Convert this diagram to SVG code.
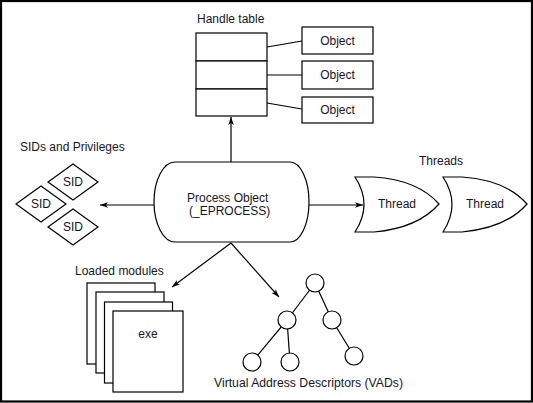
<svg xmlns="http://www.w3.org/2000/svg" width="533" height="403" viewBox="0 0 533 403">
<style>
.s{fill:#fff;stroke:#000;stroke-width:1.2}
.l{fill:none;stroke:#000;stroke-width:1.2}
.t{font-family:"Liberation Sans",Arial,sans-serif;font-size:12px;fill:#15152a}
.m{text-anchor:middle}
</style>
<defs>
<marker id="a" viewBox="0 0 10 10" refX="10" refY="5" markerWidth="8" markerHeight="8" markerUnits="userSpaceOnUse" orient="auto">
<path d="M0,1.5 L10,5 L0,8.5 L2.5,5 Z" fill="#000"/>
</marker>
</defs>
<rect x="1" y="1" width="531" height="400.5" fill="#fff" stroke="#000" stroke-width="2.2"/>

<g id="connectors">
<line class="l" x1="231" y1="162" x2="231" y2="117" marker-end="url(#a)"/>
<line class="l" x1="267" y1="47" x2="302" y2="41"/>
<line class="l" x1="267" y1="75" x2="302" y2="75"/>
<line class="l" x1="267" y1="103" x2="302" y2="109"/>
<line class="l" x1="154" y1="205" x2="100" y2="205" marker-end="url(#a)"/>
<line class="l" x1="309" y1="205" x2="363" y2="205" marker-end="url(#a)"/>
<line class="l" x1="231" y1="243" x2="172" y2="287" marker-end="url(#a)"/>
<line class="l" x1="231" y1="243" x2="279" y2="297" marker-end="url(#a)"/>
<line class="l" x1="315" y1="283" x2="287" y2="320"/>
<line class="l" x1="315" y1="283" x2="332" y2="320"/>
<line class="l" x1="287" y1="320" x2="252" y2="362"/>
<line class="l" x1="287" y1="320" x2="290" y2="362"/>
<line class="l" x1="332" y1="320" x2="354" y2="356"/>
</g>

<g id="handle-table">
<text class="t" x="197" y="23">Handle table</text>
<rect class="s" x="196" y="33" width="71" height="28"/>
<rect class="s" x="196" y="61" width="71" height="28"/>
<rect class="s" x="196" y="89" width="71" height="27"/>
</g>
<g id="object1"><rect class="s" x="302" y="27" width="71" height="27"/><text class="t m" x="337.5" y="45">Object</text></g>
<g id="object2"><rect class="s" x="302" y="61" width="71" height="28"/><text class="t m" x="337.5" y="79">Object</text></g>
<g id="object3"><rect class="s" x="302" y="97" width="71" height="26"/><text class="t m" x="337.5" y="114">Object</text></g>

<g id="process">
<path class="s" d="M175,162 H290 A19,40 0 0 1 290,242 H175 A21,40 0 0 1 175,162 Z"/>
<text class="t" x="187" y="202">Process Object</text>
<text class="t" x="189" y="215">(_EPROCESS)</text>
</g>

<g id="sids">
<text class="t" x="20" y="151">SIDs and Privileges</text>
<path class="s" d="M73,164 L98,182 L73,200 L48,182 Z"/>
<text class="t m" x="73" y="186">SID</text>
<path class="s" d="M41,186 L66,204 L41,222 L16,204 Z"/>
<text class="t m" x="41" y="208">SID</text>
<path class="s" d="M73,209 L98,227 L73,245 L48,227 Z"/>
<text class="t m" x="73" y="231">SID</text>
</g>

<g id="threads">
<text class="t m" x="441" y="165">Threads</text>
<g id="thread1">
<path class="s" d="M355,177 H374 Q418,180 439,204 Q418,228 374,232 H355 Q373,204.5 355,177 Z"/>
<text class="t m" x="397" y="208">Thread</text>
</g>
<g id="thread2">
<path class="s" d="M443,177 H462 Q506,180 527,204 Q506,228 462,232 H443 Q461,204.5 443,177 Z"/>
<text class="t m" x="485" y="208">Thread</text>
</g>
</g>

<g id="modules">
<text class="t" x="75" y="275">Loaded modules</text>
<rect class="s" x="87" y="283" width="68" height="81"/>
<rect class="s" x="96" y="292" width="68" height="81"/>
<rect class="s" x="104.5" y="302" width="68" height="81"/>
<rect class="s" x="113" y="311" width="70" height="81"/>
<text class="t m" x="148" y="338">exe</text>
</g>

<g id="vads">
<circle class="s" cx="315" cy="283" r="9"/>
<circle class="s" cx="287" cy="320" r="9"/>
<circle class="s" cx="332" cy="320" r="9"/>
<circle class="s" cx="252" cy="362" r="9"/>
<circle class="s" cx="290" cy="362" r="9"/>
<circle class="s" cx="354" cy="356" r="9"/>
<text class="t" x="214" y="387" textLength="189" lengthAdjust="spacingAndGlyphs">Virtual Address Descriptors (VADs)</text>
</g>
</svg>
